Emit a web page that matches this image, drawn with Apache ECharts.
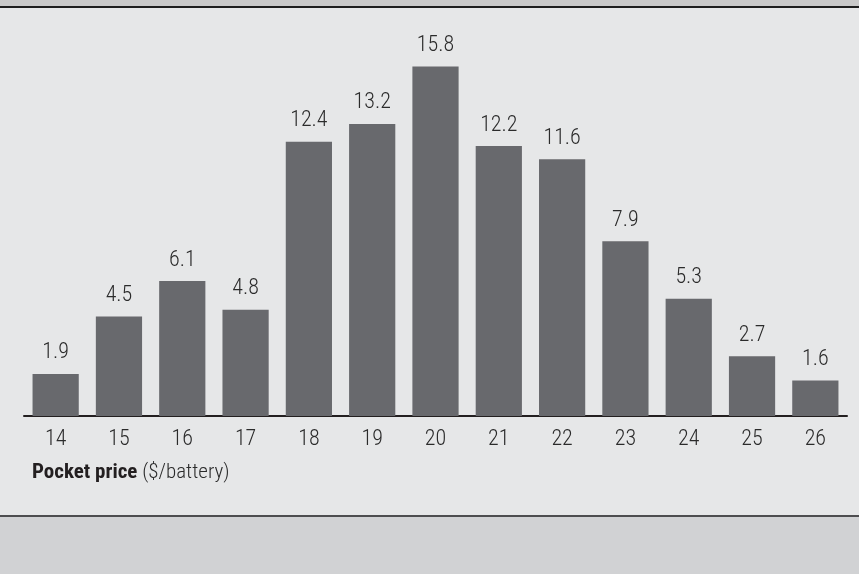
<!DOCTYPE html>
<html>
<head>
<meta charset="utf-8">
<script src="https://cdn.jsdelivr.net/npm/echarts@6/dist/echarts.min.js"></script>
<style>
html,body{margin:0;padding:0;background:#e6e7e8;}
#c{width:859px;height:574px;}
</style>
</head>
<body>
<div id="c"></div>
<script>
const categories = ['14','15','16','17','18','19','20','21','22','23','24','25','26'];
const shares = [1.9, 4.5, 6.1, 4.8, 12.4, 13.2, 15.8, 12.2, 11.6, 7.9, 5.3, 2.7, 1.6];
const axisTitleBold = 'Pocket price';
const axisTitleUnit = ' ($/battery)';

const FONT = "'Roboto Condensed', 'Roboto', sans-serif";
const chart = echarts.init(document.getElementById('c'), null, {renderer:'canvas'});
chart.setOption({
  backgroundColor: '#e6e7e8',
  animation: false,
  grid: {left: 24, right: 12, top: 62, bottom: 158},
  xAxis: {
    type: 'category',
    data: categories,
    axisLine: {show: true, lineStyle: {color: '#231f20', width: 2}},
    axisTick: {show: false},
    axisLabel: {color: '#2b2b2b', fontFamily: FONT, fontWeight: 300, fontSize: 22, margin: 12}
  },
  yAxis: {
    type: 'value', min: 0, max: 16,
    show: false, splitLine: {show: false}
  },
  series: [{
    type: 'bar',
    data: shares,
    barCategoryGap: '27%',
    itemStyle: {color: '#68696d'},
    label: {
      show: true, position: 'top', distance: 10,
      color: '#2b2b2b', fontFamily: FONT, fontWeight: 300, fontSize: 22,
      formatter: p => p.value.toFixed(1)
    }
  }],
  graphic: [
    {type: 'rect', shape: {x: 0, y: 0, width: 859, height: 6}, style: {fill: '#c9c9c9'}, silent: true},
    {type: 'rect', shape: {x: 0, y: 6, width: 859, height: 2}, style: {fill: '#1e1e1e'}, silent: true},
    {type: 'rect', shape: {x: 0, y: 516, width: 859, height: 58}, style: {fill: '#d1d2d4'}, silent: true},
    {type: 'rect', shape: {x: 0, y: 515, width: 859, height: 2}, style: {fill: '#4d4d4f'}, silent: true},
    {type: 'text', left: 32, top: 462,
     style: {
       text: '{b|' + axisTitleBold + '}{n|' + axisTitleUnit + '}',
       rich: {
         b: {fontFamily: FONT, fontSize: 21, fontWeight: 'bold', fill: '#231f20'},
         n: {fontFamily: FONT, fontSize: 21, fontWeight: 300, fill: '#2b2b2b'}
       }
     }}
  ]
});
</script>
</body>
</html>
